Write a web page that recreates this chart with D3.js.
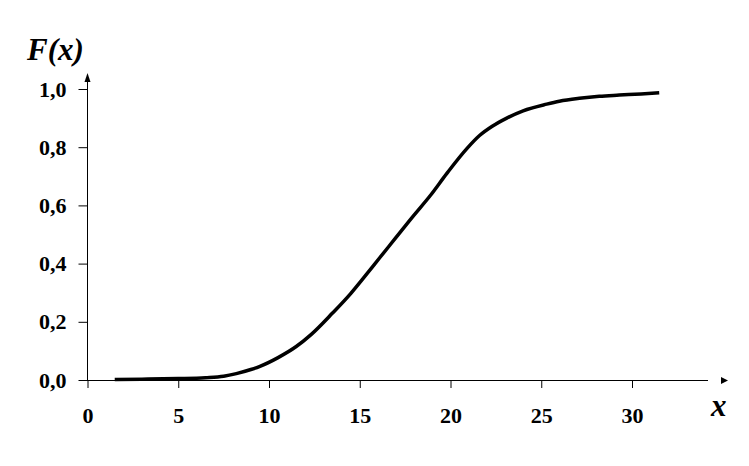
<!DOCTYPE html>
<html><head><meta charset="utf-8">
<script src="https://cdn.jsdelivr.net/npm/d3@7"></script>
<style>body{margin:0;background:#fff}svg{display:block}</style>
</head><body>
<script>
const xValues = [1.5, 3, 5, 6.5, 7.5, 8.2, 9, 9.5, 10.5, 11.5, 12.3, 13.5, 14.5, 15.2, 16.1, 17, 17.9, 18.9, 19.8, 20.9, 21.6, 22.3, 23.1, 24, 25.3, 26, 27.1, 28.2, 29.3, 30.5, 31.5];
const fValues = [0.002, 0.003, 0.005, 0.008, 0.013, 0.022, 0.036, 0.047, 0.077, 0.115, 0.155, 0.23, 0.297, 0.35, 0.42, 0.49, 0.56, 0.635, 0.71, 0.795, 0.84, 0.872, 0.9, 0.925, 0.948, 0.958, 0.968, 0.975, 0.979, 0.983, 0.987];
const xTicks = [0, 5, 10, 15, 20, 25, 30];
const yTicks = [0, 0.2, 0.4, 0.6, 0.8, 1.0];
const yTickLabels = ["0,0", "0,2", "0,4", "0,6", "0,8", "1,0"];

const W = 749, H = 466;
const svg = d3.select("body").append("svg").attr("width", W).attr("height", H);
const x = d3.scaleLinear().domain([0, 30]).range([87.5, 632]);
const y = d3.scaleLinear().domain([0, 1]).range([380, 89]);
const font = "'Liberation Serif','Times New Roman',serif";

// x axis
const xa = svg.append("g").attr("transform", `translate(0,${y(0)})`)
  .call(d3.axisBottom(x).tickValues(xTicks).tickSize(8).tickPadding(19).tickFormat(d3.format("d")));
xa.select(".domain").remove();
xa.selectAll("line").attr("stroke", "#000");
xa.selectAll("text").attr("font-family", font).attr("font-size", 22).attr("font-weight", "bold").attr("fill", "#000");
svg.append("line").attr("x1", 79).attr("x2", 708).attr("y1", y(0)+0.5).attr("y2", y(0)+0.5).attr("stroke", "#000");
svg.append("path").attr("d", `M721,${y(0)-3.5+0.5}L728,${y(0)+0.5}L721,${y(0)+3.5+0.5}Z`).attr("fill", "#000");

// y axis
const ya = svg.append("g").attr("transform", `translate(${x(0)},0)`)
  .call(d3.axisLeft(y).tickValues(yTicks).tickSize(9).tickPadding(12).tickFormat((d, i) => yTickLabels[i]));
ya.select(".domain").remove();
ya.selectAll("line").attr("stroke", "#000");
ya.selectAll("text").attr("font-family", font).attr("font-size", 22).attr("font-weight", "bold").attr("fill", "#000");
svg.append("line").attr("x1", x(0)).attr("x2", x(0)).attr("y1", 76).attr("y2", y(0)).attr("stroke", "#000");
svg.append("path").attr("d", `M${x(0)-3},82L${x(0)},73L${x(0)+3},82Z`).attr("fill", "#000");

// curve
const data = xValues.map((v, i) => [v, fValues[i]]);
svg.append("path").datum(data)
  .attr("d", d3.line().x(d => x(d[0])).y(d => y(d[1])).curve(d3.curveMonotoneX))
  .attr("fill", "none").attr("stroke", "#000").attr("stroke-width", 3.5).attr("stroke-linecap", "butt");

// axis titles
svg.append("text").attr("x", 27).attr("y", 60).attr("font-family", font).attr("font-size", 31)
  .attr("font-weight", "bold").attr("font-style", "italic").text("F(x)");
svg.append("text").attr("x", 711).attr("y", 416).attr("font-family", font).attr("font-size", 31)
  .attr("font-weight", "bold").attr("font-style", "italic").text("x");
</script>
</body></html>
